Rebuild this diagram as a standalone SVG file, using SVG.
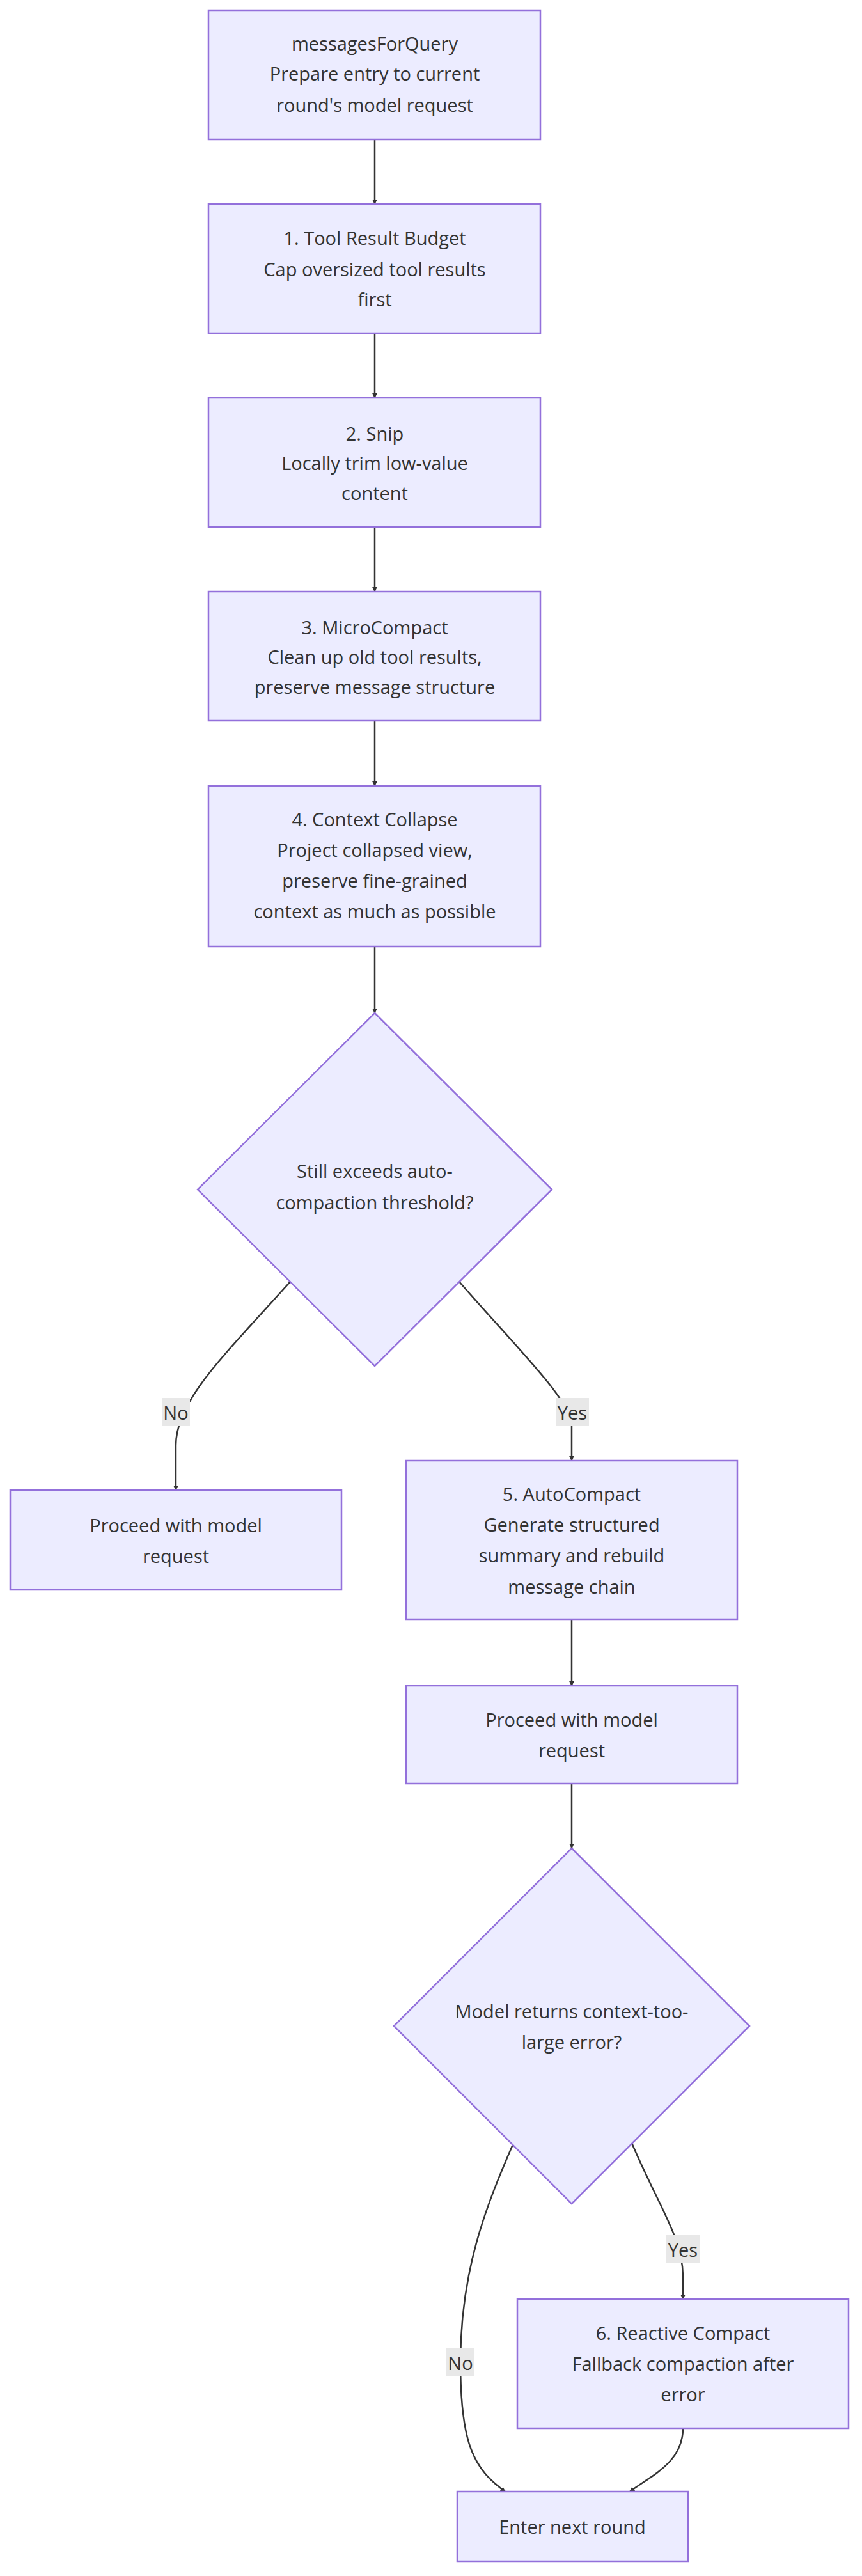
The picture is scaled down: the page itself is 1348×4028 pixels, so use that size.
<svg xmlns="http://www.w3.org/2000/svg" width="1348" height="4028" viewBox="0 0 1348 4028">
<defs>
<style>
.n{fill:#ECECFF;stroke:#9370DB;stroke-width:2.5}
.t{font-family:"Open Sans","DejaVu Sans",sans-serif;font-size:29px;fill:#333;text-anchor:middle;dominant-baseline:central}
.e{fill:none;stroke:#333;stroke-width:2.5;marker-end:url(#ah)}
.lb{fill:#e8e8e8}
</style>
<marker id="ah" viewBox="0 0 10 10" refX="9" refY="5" markerWidth="8" markerHeight="8" markerUnits="userSpaceOnUse" orient="auto"><path d="M0,0L10,5L0,10z" fill="#333"/></marker>
</defs>
<rect width="1348" height="4028" fill="#fff"/>
<g id="edges">
<path class="e" d="M586,218V319"/>
<path class="e" d="M586,521V622"/>
<path class="e" d="M586,824V925"/>
<path class="e" d="M586,1127V1229"/>
<path class="e" d="M586,1480V1584"/>
<path class="e" d="M454,2004C350,2120 275,2190 275,2260L275,2330"/>
<path class="e" d="M718,2004C810,2110 894,2190 894,2230L894,2284"/>
<path class="e" d="M894,2532V2636"/>
<path class="e" d="M894,2789V2890"/>
<path class="e" d="M803,3351C760,3450 720,3550 720,3694C720,3820 740,3860 790,3896"/>
<path class="e" d="M988,3351C1030,3450 1068,3500 1068,3560L1068,3595"/>
<path class="e" d="M1068,3797C1068,3850 1020,3870 985,3896"/>
<rect class="lb" x="253" y="2186" width="44" height="44"/><text class="t" x="275" y="2208">No</text>
<rect class="lb" x="869" y="2186" width="52" height="44"/><text class="t" x="895" y="2208">Yes</text>
<rect class="lb" x="1042" y="3495" width="52" height="44"/><text class="t" x="1068" y="3517">Yes</text>
<rect class="lb" x="698" y="3672" width="44" height="44"/><text class="t" x="720" y="3694">No</text>
</g>
<g id="n1"><rect class="n" x="326" y="16" width="519" height="202"/><text class="t" x="586" y="67">messagesForQuery</text><text class="t" x="586" y="114">Prepare entry to current</text><text class="t" x="586" y="163">round's model request</text></g>
<g id="n2"><rect class="n" x="326" y="319" width="519" height="202"/><text class="t" x="586" y="371">1. Tool Result Budget</text><text class="t" x="586" y="420">Cap oversized tool results</text><text class="t" x="586" y="467">first</text></g>
<g id="n3"><rect class="n" x="326" y="622" width="519" height="202"/><text class="t" x="586" y="677">2. Snip</text><text class="t" x="586" y="723">Locally trim low-value</text><text class="t" x="586" y="770">content</text></g>
<g id="n4"><rect class="n" x="326" y="925" width="519" height="202"/><text class="t" x="586" y="980">3. MicroCompact</text><text class="t" x="586" y="1026">Clean up old tool results,</text><text class="t" x="586" y="1073">preserve message structure</text></g>
<g id="n5"><rect class="n" x="326" y="1229" width="519" height="251"/><text class="t" x="586" y="1280">4. Context Collapse</text><text class="t" x="586" y="1328">Project collapsed view,</text><text class="t" x="586" y="1376">preserve fine-grained</text><text class="t" x="586" y="1424">context as much as possible</text></g>
<g id="d1"><polygon class="n" points="586,1584 863,1860 586,2136 309,1860"/><text class="t" x="586" y="1830">Still exceeds auto-</text><text class="t" x="586" y="1879">compaction threshold?</text></g>
<g id="n6"><rect class="n" x="16" y="2330" width="518" height="156"/><text class="t" x="275" y="2384">Proceed with model</text><text class="t" x="275" y="2432">request</text></g>
<g id="n7"><rect class="n" x="635" y="2284" width="518" height="248"/><text class="t" x="894" y="2335">5. AutoCompact</text><text class="t" x="894" y="2383">Generate structured</text><text class="t" x="894" y="2431">summary and rebuild</text><text class="t" x="894" y="2480">message chain</text></g>
<g id="n8"><rect class="n" x="635" y="2636" width="518" height="153"/><text class="t" x="894" y="2688">Proceed with model</text><text class="t" x="894" y="2736">request</text></g>
<g id="d2"><polygon class="n" points="894,2890 1172,3168 894,3446 616,3168"/><text class="t" x="894" y="3144">Model returns context-too-</text><text class="t" x="894" y="3192">large error?</text></g>
<g id="n9"><rect class="n" x="809" y="3595" width="518" height="202"/><text class="t" x="1068" y="3647">6. Reactive Compact</text><text class="t" x="1068" y="3695">Fallback compaction after</text><text class="t" x="1068" y="3743">error</text></g>
<g id="n10"><rect class="n" x="715" y="3896" width="361" height="109"/><text class="t" x="895" y="3950">Enter next round</text></g>
</svg>
